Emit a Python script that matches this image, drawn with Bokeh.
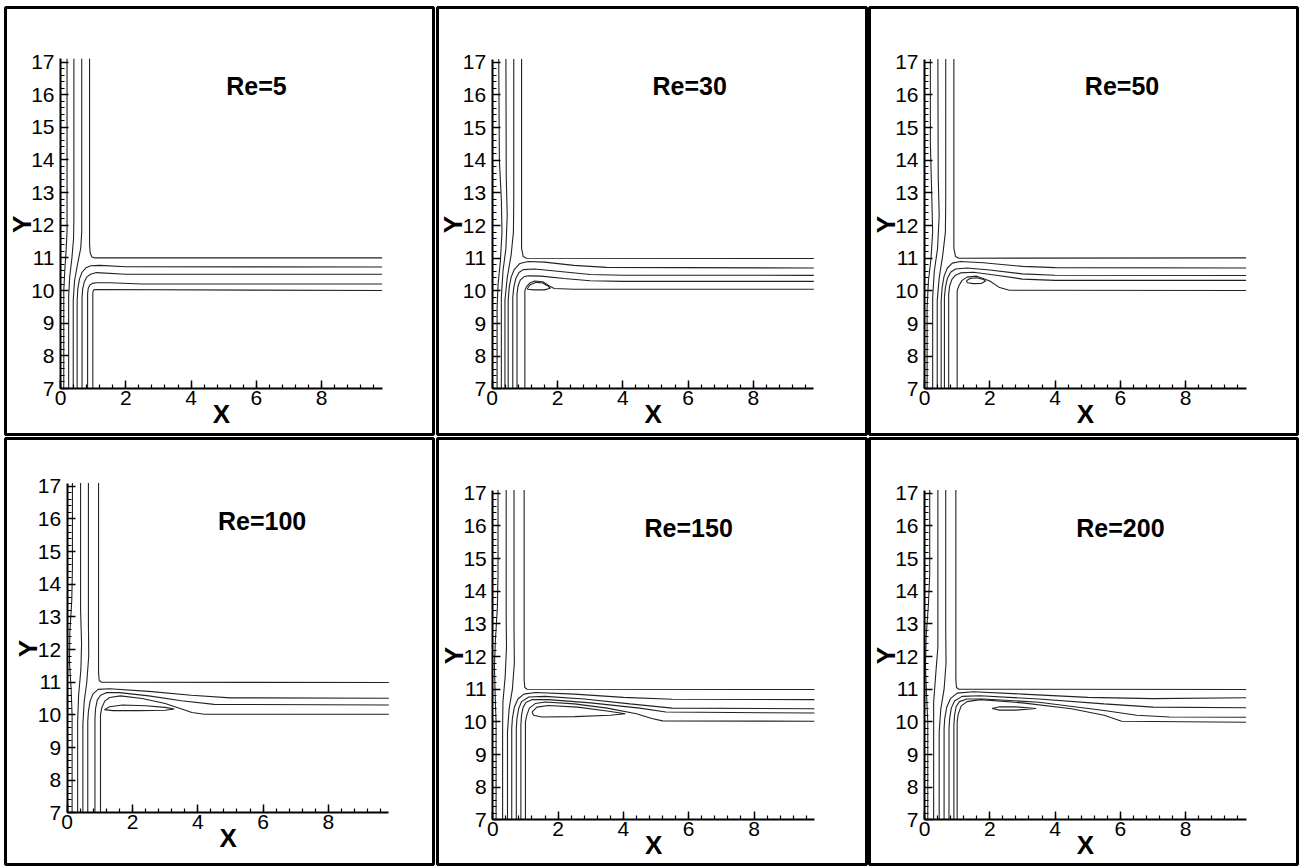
import numpy as np
from bokeh.plotting import figure
from bokeh.layouts import column, row
from bokeh.models import LinearAxis, FixedTicker, Range1d, Label
from bokeh.embed import file_html
from bokeh.resources import INLINE

titles = ["Re=5", "Re=30", "Re=50", "Re=100", "Re=150", "Re=200"]
x_major = [0, 2, 4, 6, 8]
y_major = [7, 8, 9, 10, 11, 12, 13, 14, 15, 16, 17]
x_end = 9.85
y_top = 17.1

# ---- streamlines (x, y) ----
re5_lines = [
    [(0.10, 7.0), (0.10, 10.0), (0.13, 10.6), (0.17, 11.2), (0.20, 11.8), (0.20, y_top)],
    [(0.25, 7.0), (0.25, 9.8), (0.28, 10.4), (0.35, 11.0), (0.40, 11.6), (0.41, 12.2), (0.41, y_top)],
    [(0.39, 7.0), (0.39, 9.7), (0.43, 10.3), (0.52, 10.8), (0.62, 11.3), (0.65, 11.8), (0.65, y_top)],
    [(0.89, y_top), (0.89, 11.4), (0.91, 11.15), (0.96, 11.03), (1.05, 11.0), (x_end, 11.0)],
    [(0.51, 7.0), (0.51, 9.7), (0.53, 10.05), (0.58, 10.35), (0.66, 10.56), (0.77, 10.69), (0.92, 10.76), (1.2, 10.77), (2.0, 10.73), (x_end, 10.72)],
    [(0.66, 7.0), (0.66, 9.8), (0.68, 10.05), (0.73, 10.27), (0.81, 10.42), (0.92, 10.5), (1.1, 10.55), (2.0, 10.5), (x_end, 10.5)],
    [(0.83, 7.0), (0.83, 9.9), (0.85, 10.07), (0.90, 10.17), (0.98, 10.22), (1.1, 10.24), (1.5, 10.24), (2.5, 10.2), (x_end, 10.2)],
    [(0.99, 7.0), (0.99, 9.95), (1.02, 10.02), (1.1, 10.03), (x_end, 10.0)],
]

re30_lines = [
    [(0.15, 7.0), (0.15, 9.5), (0.18, 10.2), (0.25, 10.9), (0.30, 11.8), (0.28, 12.8), (0.22, 14.0), (0.20, y_top)],
    [(0.28, 7.0), (0.28, 9.8), (0.33, 10.6), (0.42, 11.3), (0.46, 12.3), (0.43, 13.5), (0.42, y_top)],
    [(0.39, 7.0), (0.39, 9.7), (0.46, 10.4), (0.58, 11.1), (0.65, 11.8), (0.66, 12.8), (0.66, y_top)],
    [(0.90, y_top), (0.90, 11.3), (0.95, 11.05), (1.05, 11.0), (x_end, 10.99)],
    [(0.49, 7.0), (0.49, 9.7), (0.52, 10.1), (0.58, 10.42), (0.68, 10.66), (0.85, 10.84), (1.1, 10.9), (1.6, 10.88), (2.5, 10.78), (3.5, 10.72), (x_end, 10.70)],
    [(0.63, 7.0), (0.63, 9.8), (0.66, 10.1), (0.72, 10.37), (0.82, 10.56), (0.95, 10.65), (1.3, 10.67), (2.0, 10.6), (3.0, 10.5), (4.0, 10.48), (x_end, 10.475)],
    [(0.76, 7.0), (0.76, 9.9), (0.79, 10.15), (0.86, 10.33), (0.97, 10.43), (1.1, 10.46), (1.5, 10.45), (2.2, 10.38), (3.0, 10.31), (4.0, 10.29), (x_end, 10.29)],
    [(1.0, 7.0), (1.0, 10.0), (1.05, 10.13), (1.15, 10.24), (1.3, 10.3), (1.55, 10.28), (1.75, 10.15), (1.9, 10.07), (2.5, 10.05), (x_end, 10.05)],
    [(1.07, 10.05), (1.15, 10.18), (1.35, 10.26), (1.55, 10.24), (1.72, 10.14), (1.78, 10.08), (1.6, 10.03), (1.3, 10.03), (1.07, 10.05)],
]

re50_lines = [
    [(0.08, 7.0), (0.08, 9.5), (0.12, 10.3), (0.20, 11.0), (0.25, 11.8), (0.22, 13.0), (0.18, 14.5), (0.18, y_top)],
    [(0.25, 7.0), (0.25, 9.8), (0.30, 10.6), (0.40, 11.3), (0.45, 12.3), (0.42, 13.5), (0.41, y_top)],
    [(0.39, 7.0), (0.39, 9.7), (0.45, 10.4), (0.56, 11.1), (0.64, 11.8), (0.65, 12.8), (0.65, y_top)],
    [(0.90, y_top), (0.90, 11.3), (0.95, 11.05), (1.05, 11.0), (x_end, 11.01)],
    [(0.51, 7.0), (0.51, 9.7), (0.54, 10.1), (0.60, 10.45), (0.70, 10.7), (0.85, 10.85), (1.1, 10.9), (1.8, 10.86), (3.0, 10.75), (4.0, 10.71), (x_end, 10.70)],
    [(0.61, 7.0), (0.61, 9.8), (0.64, 10.1), (0.70, 10.38), (0.80, 10.57), (0.95, 10.67), (1.3, 10.7), (2.0, 10.64), (3.0, 10.52), (4.0, 10.48), (x_end, 10.47)],
    [(0.74, 7.0), (0.74, 9.9), (0.77, 10.15), (0.84, 10.35), (0.95, 10.48), (1.1, 10.55), (1.5, 10.57), (2.2, 10.48), (3.0, 10.36), (4.0, 10.32), (x_end, 10.32)],
    [(1.0, 7.0), (1.0, 10.0), (1.05, 10.15), (1.15, 10.32), (1.3, 10.42), (1.6, 10.45), (2.0, 10.3), (2.3, 10.1), (2.6, 10.02), (x_end, 10.01)],
    [(1.28, 10.31), (1.4, 10.38), (1.6, 10.40), (1.8, 10.35), (1.87, 10.3), (1.75, 10.23), (1.5, 10.22), (1.32, 10.25), (1.28, 10.31)],
]

re100_lines = [
    [(0.15, 7.0), (0.15, 10.0), (0.12, 10.8), (0.07, 11.6), (0.08, 12.5), (0.14, 13.5), (0.16, 14.5), (0.16, y_top)],
    [(0.32, 7.0), (0.32, 9.8), (0.35, 10.6), (0.42, 11.4), (0.44, 12.2), (0.41, 13.2), (0.41, y_top)],
    [(0.48, 7.0), (0.48, 9.7), (0.52, 10.4), (0.60, 11.0), (0.66, 11.8), (0.65, 12.8), (0.65, y_top)],
    [(0.96, y_top), (0.96, 11.3), (0.98, 11.05), (1.05, 11.0), (x_end, 10.99)],
    [(0.63, 7.0), (0.63, 9.8), (0.65, 10.1), (0.70, 10.42), (0.79, 10.64), (0.95, 10.78), (1.3, 10.8), (2.5, 10.72), (3.8, 10.6), (5.0, 10.52), (x_end, 10.51)],
    [(0.85, 7.0), (0.85, 9.9), (0.87, 10.2), (0.92, 10.45), (1.02, 10.6), (1.2, 10.68), (1.6, 10.68), (2.5, 10.58), (3.5, 10.43), (4.5, 10.32), (x_end, 10.30)],
    [(1.02, 7.0), (1.02, 10.0), (1.06, 10.22), (1.15, 10.42), (1.3, 10.53), (1.63, 10.58), (2.3, 10.5), (3.0, 10.35), (3.6, 10.15), (3.82, 10.07), (4.2, 10.02), (x_end, 10.02)],
    [(1.14, 10.16), (1.3, 10.25), (1.7, 10.3), (2.4, 10.28), (3.0, 10.23), (3.28, 10.18), (3.0, 10.14), (2.2, 10.13), (1.4, 10.13), (1.14, 10.16)],
]

re150_lines = [
    [(0.10, 7.0), (0.10, 10.0), (0.07, 10.9), (0.05, 11.7), (0.08, 12.5), (0.14, 13.5), (0.16, 14.5), (0.16, y_top)],
    [(0.30, 7.0), (0.30, 9.8), (0.31, 10.6), (0.38, 11.4), (0.42, 12.3), (0.41, 13.2), (0.41, y_top)],
    [(0.45, 7.0), (0.45, 9.7), (0.50, 10.4), (0.60, 11.0), (0.66, 11.8), (0.65, 12.8), (0.65, y_top)],
    [(0.96, y_top), (0.96, 11.3), (0.98, 11.05), (1.05, 11.0), (x_end, 10.99)],
    [(0.58, 7.0), (0.58, 9.8), (0.60, 10.1), (0.66, 10.45), (0.77, 10.7), (0.95, 10.85), (1.3, 10.9), (2.5, 10.85), (4.0, 10.75), (5.5, 10.69), (x_end, 10.68)],
    [(0.72, 7.0), (0.72, 9.8), (0.74, 10.1), (0.79, 10.4), (0.88, 10.62), (1.1, 10.76), (1.6, 10.78), (2.8, 10.7), (4.2, 10.55), (5.5, 10.42), (x_end, 10.40)],
    [(0.86, 7.0), (0.86, 9.9), (0.88, 10.2), (0.93, 10.45), (1.02, 10.6), (1.2, 10.68), (1.7, 10.68), (3.0, 10.58), (4.5, 10.42), (5.3, 10.3), (x_end, 10.27)],
    [(1.0, 7.0), (1.0, 10.0), (1.04, 10.2), (1.12, 10.42), (1.3, 10.56), (1.61, 10.61), (2.5, 10.55), (3.5, 10.42), (4.4, 10.25), (4.87, 10.1), (5.2, 10.03), (x_end, 10.02)],
    [(1.2, 10.3), (1.35, 10.45), (1.7, 10.5), (2.6, 10.45), (3.5, 10.33), (4.06, 10.25), (3.6, 10.2), (2.5, 10.16), (1.5, 10.15), (1.25, 10.2), (1.2, 10.3)],
]

re200_lines = [
    [(0.10, 7.0), (0.10, 10.0), (0.06, 10.9), (0.03, 11.7), (0.05, 12.6), (0.12, 13.6), (0.16, 14.5), (0.16, y_top)],
    [(0.28, 7.0), (0.28, 9.8), (0.28, 10.6), (0.34, 11.4), (0.41, 12.3), (0.41, 13.2), (0.41, y_top)],
    [(0.45, 7.0), (0.45, 9.7), (0.50, 10.4), (0.60, 11.0), (0.66, 11.8), (0.65, 12.8), (0.65, y_top)],
    [(0.96, y_top), (0.96, 11.3), (0.98, 11.05), (1.05, 11.0), (x_end, 10.99)],
    [(0.60, 7.0), (0.60, 9.8), (0.62, 10.1), (0.68, 10.45), (0.80, 10.72), (1.0, 10.88), (1.5, 10.92), (3.0, 10.85), (5.0, 10.75), (7.0, 10.71), (x_end, 10.74)],
    [(0.75, 7.0), (0.75, 9.8), (0.77, 10.1), (0.82, 10.42), (0.92, 10.64), (1.15, 10.78), (1.7, 10.8), (3.5, 10.7), (5.5, 10.55), (7.0, 10.45), (x_end, 10.43)],
    [(0.90, 7.0), (0.90, 9.9), (0.92, 10.2), (0.97, 10.47), (1.07, 10.62), (1.3, 10.7), (1.8, 10.7), (3.5, 10.6), (5.5, 10.35), (6.5, 10.2), (7.5, 10.15), (x_end, 10.14)],
    [(1.0, 7.0), (1.0, 10.0), (1.03, 10.22), (1.12, 10.48), (1.3, 10.62), (1.71, 10.68), (3.0, 10.58), (4.5, 10.4), (5.5, 10.2), (6.04, 10.02), (x_end, 9.99)],
    [(2.07, 10.41), (2.3, 10.46), (2.8, 10.46), (3.42, 10.41), (2.8, 10.36), (2.3, 10.36), (2.07, 10.41)],
]

all_lines = [re5_lines, re30_lines, re50_lines, re100_lines, re150_lines, re200_lines]

# ---- layout (pixels) ----
col_w = [435, 433, 431]
row_h = [436, 430]
borders = [  # left, right, top, bottom, origin-x, origin-y (local px)
    (5, 2, 7, 2, 60.0, 388.0),
    (2, 2, 7, 2, 56.7, 388.3),
    (1, 2, 7, 2, 56.0, 388.3),
    (5, 2, 2, 2, 66.7, 376.3),
    (2, 2, 2, 2, 57.3, 383.3),
    (1, 2, 2, 2, 56.0, 383.3),
]
title_pos = [(6.0, 16.26), (6.05, 16.26), (6.05, 16.26), (5.97, 15.95), (6.0, 15.95), (6.0, 15.95)]
S = 32.65
FONT = "Liberation Sans"


def make_panel(i):
    r, c = divmod(i, 3)
    W, H = col_w[c], row_h[r]
    bl, br, bt, bb, ox, oy = borders[i]
    x0 = (bl - ox) / S
    x1 = (W - br - ox) / S
    y1 = 7 + (oy - bt) / S
    y0 = 7 - (H - bb - oy) / S
    p = figure(width=W, height=H, x_range=Range1d(x0, x1), y_range=Range1d(y0, y1),
               x_axis_type=None, y_axis_type=None, toolbar_location=None,
               output_backend="svg", min_border_left=bl, min_border_right=br,
               min_border_top=bt, min_border_bottom=bb)
    p.grid.visible = False
    p.outline_line_color = "black"
    p.outline_line_width = 3
    p.background_fill_color = "white"
    p.border_fill_color = "white"

    xax = LinearAxis(fixed_location=7, bounds=(0, x_end),
                     ticker=FixedTicker(ticks=x_major, minor_ticks=list(np.arange(0, 9.85, 0.4))))
    yax = LinearAxis(fixed_location=0, bounds=(7, y_top),
                     ticker=FixedTicker(ticks=y_major, minor_ticks=list(np.arange(7, 17.01, 0.2))))
    for ax in (xax, yax):
        ax.axis_line_width = 2
        ax.axis_line_color = "black"
        ax.major_tick_in = 8
        ax.major_tick_out = 0
        ax.minor_tick_in = 4
        ax.minor_tick_out = 0
        ax.major_tick_line_width = 1.5
        ax.minor_tick_line_width = 1.2
        ax.major_tick_line_color = "black"
        ax.minor_tick_line_color = "black"
        ax.major_label_text_font = FONT
        ax.major_label_text_font_size = "21px"
        ax.major_label_text_color = "black"
    xax.major_label_standoff = 2
    yax.major_label_standoff = 6
    p.add_layout(xax, "below")
    p.add_layout(yax, "left")

    lines = all_lines[i]
    xs = [[pt[0] for pt in ln] for ln in lines]
    ys = [[pt[1] for pt in ln] for ln in lines]
    p.multi_line(xs, ys, line_color="#222222", line_width=1.1)

    tx, ty = title_pos[i]
    p.add_layout(Label(x=tx, y=ty, text=titles[i], text_font=FONT, text_font_style="bold",
                       text_font_size="25px", text_align="center", text_baseline="middle",
                       text_color="black"))
    p.add_layout(Label(x=4.93, y=7 - 25 / S, text="X", text_font=FONT, text_font_style="bold",
                       text_font_size="26px", text_align="center", text_baseline="middle",
                       text_color="black"))
    p.add_layout(Label(x=-39 / S, y=12.03, text="Y", angle=np.pi / 2, text_font=FONT,
                       text_font_style="bold", text_font_size="26px", text_align="center",
                       text_baseline="middle", text_color="black"))
    return p


panels = [make_panel(i) for i in range(6)]
layout = column(row(*panels[:3]), row(*panels[3:]))
open("out.html", "w").write(file_html(layout, INLINE))
